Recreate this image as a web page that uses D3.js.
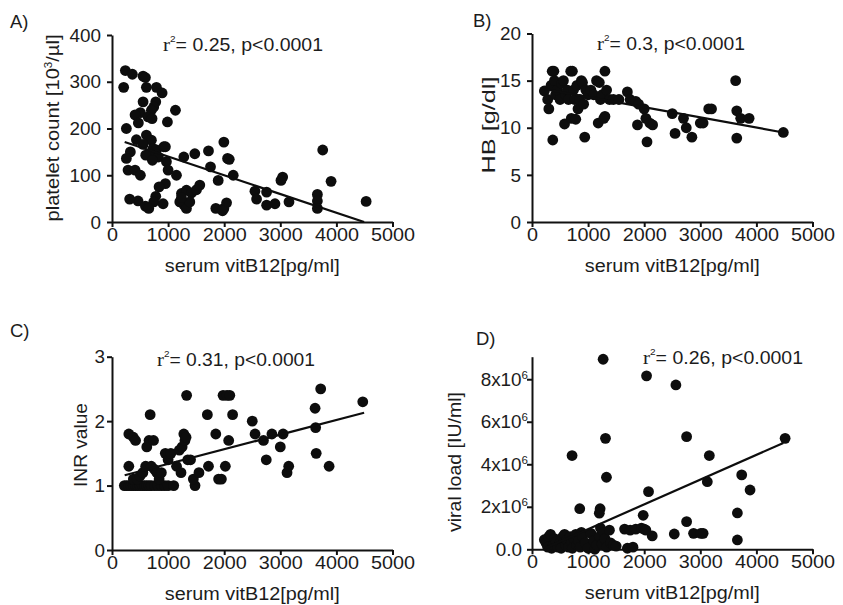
<!DOCTYPE html>
<html><head><meta charset="utf-8">
<script src="https://cdn.jsdelivr.net/npm/d3@7/dist/d3.min.js"></script>
<style>
body{margin:0;background:#fff}
svg{display:block}
text{font-family:"Liberation Sans",Arial,Helvetica,sans-serif;fill:#1c1c1c}
</style>
</head><body>
<svg id="chart" width="843" height="605"></svg>
<script>
// ---------- data ----------
const xTicks = [0, 1000, 2000, 3000, 4000, 5000];
const xTitle = "serum vitB12[pg/ml]";

// A) platelet count vs serum vitB12  [vitB12, platelets]
const plateletPts = [
  [238,324],[363,316],[554,312],[595,309],[208,288],[613,288],[792,288],[893,276],
  [554,257],[780,257],[744,246],[702,239],[506,234],[411,229],[643,225],[714,221],[470,212],
  [1131,239],[988,214],[256,200],[613,186],[435,176],[702,175],[554,166],[732,157],
  [792,154],[923,161],[327,150],[673,146],[601,143],[827,139],[720,132],[256,136],
  [286,111],[411,111],[506,100],[952,161],[970,129],[1000,111],[952,82],[839,75],
  [780,55],[744,43],[911,39],[1149,100],[1280,139],[1476,146],[1238,61],[1327,68],
  [1417,62],[1565,79],[1506,69],[1208,43],[1286,36],[1327,29],[1387,43],[1238,52],
  [464,45],[595,34],[655,29],[315,49],[1720,152],[1756,118],[1893,89],[1851,29],
  [1994,171],[2060,136],[2090,134],[1994,29],[2042,41],[1970,24],[2161,100],[2548,66],
  [2577,49],[2756,64],[2756,36],[2905,39],[3042,96],[3012,89],[3155,43],[3661,59],
  [3661,45],[3661,29],[3756,154],[3905,87],[4530,44]
];
const plateletFit = [[226,171],[4494,0]];
const plateletTicks = [0, 100, 200, 300, 400];

// B) HB vs serum vitB12  [vitB12, HB]
const hbPts = [
  [220,13.9],[280,13],[300,12],[340,14.5],[360,16],[390,16],[370,8.7],[400,15],[420,13.5],
  [450,14],[500,13],[530,14.7],[560,15],[580,10.4],[600,13.5],[630,14],[650,13],[690,16],
  [700,11],[720,16],[740,14],[760,13],[780,10.9],[800,14.5],[820,12],[850,13],[880,15],
  [900,14.8],[920,12.5],[940,9],[960,14],[1000,13.5],[1050,14],[1100,13.5],[1150,15],
  [1180,10.5],[1200,14.8],[1220,13],[1250,13.5],[1280,11],[1300,16],[1300,11.2],[1330,14],
  [1380,13],[1450,13],[1550,13],[1700,13.8],[1750,13],[1850,12.8],[1880,10.3],[1900,12.5],
  [2000,12],[2030,11],[2050,8.5],[2100,10.5],[2150,10.3],[2500,11.5],[2550,9.4],[2700,11],
  [2750,10],[2850,9],[3000,10.5],[3050,10.5],[3150,12],[3200,12],[3630,15],[3650,11.8],
  [3650,8.9],[3720,11],[3870,11],[4480,9.5]
];
const hbFit = [[220,14.1],[4480,9.5]];
const hbTicks = [0, 5, 10, 15, 20];

// C) INR vs serum vitB12  [vitB12, INR]
const inrPts = [
  [220,1],[260,1],[300,1],[340,1],[380,1],[420,1],[460,1],[500,1],[540,1],[580,1],[620,1],
  [660,1],[700,1],[760,1],[820,1],[880,1],[940,1],[1000,1],[1100,1],[1480,1],
  [300,1.3],[300,1.8],[380,1.75],[420,1.7],[380,1.1],[450,1.1],[500,1.15],[550,1.2],
  [600,1.3],[620,1.6],[660,1.7],[680,2.1],[700,1.3],[740,1.7],[760,1.25],[800,1.2],
  [840,1.1],[880,1.2],[950,1.5],[1000,1.4],[1050,1.5],[1150,1.3],[1200,1.55],[1230,1.2],
  [1250,1.6],[1280,1.8],[1300,1.7],[1320,1.75],[1330,2.4],[1350,1.4],[1400,1.4],[1450,1.1],
  [1550,1.2],[1700,2.1],[1720,1.3],[1850,1.8],[1900,1.1],[1950,1.1],[1980,2.4],[2020,1.3],
  [2050,2.4],[2080,1.7],[2100,2.4],[2150,2.1],[2500,2.0],[2550,1.8],[2700,1.7],[2750,1.4],
  [2850,1.8],[3000,1.6],[3050,1.8],[3120,1.2],[3150,1.3],[3620,2.2],[3630,1.9],[3640,1.5],
  [3720,2.5],[3870,1.3],[4470,2.3]
];
const inrFit = [[226,1.16],[4494,2.13]];
const inrTicks = [0, 1, 2, 3];

// D) viral load vs serum vitB12  [vitB12, viral load (x10^6 IU/ml)]
const viralPts = [
  [1268,8.94],[2042,8.16],[2565,7.73],[1310,5.22],[2756,5.3],[4512,5.22],[714,4.41],
  [3161,4.41],[1327,3.39],[3125,3.18],[3738,3.5],[3887,2.79],[2077,2.71],[851,1.91],
  [1214,1.91],[1200,1.7],[1982,1.6],[2756,1.3],[3661,1.71],[3661,0.44],[2536,0.72],
  [2880,0.75],[3050,0.75],[3010,0.75],[2143,0.63],
  [220,0.45],[250,0.3],[280,0.1],[300,0.6],[330,0.7],[350,0.05],[380,0.2],[400,0.5],
  [430,0.35],[460,0.1],[500,0.3],[520,0.05],[550,0.6],[580,0.7],[600,0.2],[620,0.45],
  [650,0.1],[680,0.6],[700,0.3],[720,0.05],[750,0.5],[780,0.7],[800,0.2],[830,0.4],
  [860,0.1],[880,0.8],[900,0.6],[950,0.3],[1000,0.05],[1050,0.75],[1100,0.4],[1120,0.0],
  [1150,0.2],[1200,0.6],[1220,1.0],[1250,0.25],[1280,0.8],[1300,0.5],[1330,0.1],
  [1380,0.9],[1400,0.3],[1450,0.2],[1500,0.15],[1650,0.95],[1700,0.05],[1750,0.9],
  [1800,0.1],[1850,0.95],[1950,1.0],[2000,0.95],[2030,0.9]
];
const viralFit = [[220,0.04],[4480,5.0]];
const viralTicks = [0, 2, 4, 6, 8];

// ---------- layout ----------
const panels = [
  {lab:"A)", labX:10, labY:28, pts:plateletPts, fit:plateletFit, ticks:plateletTicks,
   xr:[112,392.5], yr:[222,35], yd:[0,400], yLabX:-11,
   yTitle:["platelet count [10","3","/µl]"], yTitleX:59, yTitleY:128, yTitleLen:187,
   r2:"0.25", r2X:163, r2Y:51, r2Len:160},
  {lab:"B)", labX:473, labY:27, pts:hbPts, fit:hbFit, ticks:hbTicks,
   xr:[532,812.5], yr:[222,33.5], yd:[0,20], yLabX:-11,
   yTitle:["HB [g/dl]"], yTitleX:495, yTitleY:125, yTitleLen:97,
   r2:"0.3", r2X:597, r2Y:50, r2Len:148},
  {lab:"C)", labX:10, labY:337, pts:inrPts, fit:inrFit, ticks:inrTicks,
   xr:[112,392.5], yr:[550,356.7], yd:[0,3], yLabX:-7,
   yTitle:["INR value"], yTitleX:87, yTitleY:445, yTitleLen:84,
   r2:"0.31", r2X:157, r2Y:366, r2Len:158},
  {lab:"D)", labX:476, labY:345, pts:viralPts, fit:viralFit, ticks:viralTicks, sci:true,
   xr:[532,812.5], yr:[549.3,356.7], yd:[0,9.06], yLabX:-4,
   yTitle:["viral load [IU/ml]"], yTitleX:461, yTitleY:462, yTitleLen:140,
   r2:"0.26", r2X:643, r2Y:364, r2Len:160}
];

const svg = d3.select("#chart");
svg.append("rect").attr("width",843).attr("height",605).attr("fill","#fff");

const TICK_FS = 18;

panels.forEach(p => {
  const x = d3.scaleLinear().domain([0,5000]).range(p.xr);
  const y = d3.scaleLinear().domain(p.yd).range(p.yr);
  const g = svg.append("g");

  // panel letter
  g.append("text").attr("x",p.labX).attr("y",p.labY)
    .attr("font-size",18.5).text(p.lab);

  // x axis
  const xa = g.append("g").attr("transform",`translate(0,${p.yr[0]})`)
    .call(d3.axisBottom(x).tickValues(xTicks).tickFormat(d3.format("d")).tickSize(5).tickSizeOuter(0));
  // y axis
  const ya = g.append("g").attr("transform",`translate(${p.xr[0]},0)`)
    .call(d3.axisLeft(y).tickValues(p.ticks).tickFormat(d3.format("d")).tickSize(5).tickSizeOuter(0));

  [xa, ya].forEach(a => {
    a.attr("font-size",TICK_FS).attr("font-family",null);
    a.select(".domain").attr("stroke","#111").attr("stroke-width",2);
    a.selectAll(".tick line").attr("stroke","#111").attr("stroke-width",2);
    a.selectAll("text").attr("font-size",TICK_FS).attr("fill","#1c1c1c");
  });
  xa.selectAll(".tick text").attr("y",null).attr("dy",null)
    .attr("transform","translate(0,18.5) scale(1.1,1)");
  ya.selectAll(".tick text").attr("x",null).attr("dy","0.34em")
    .attr("transform",d => `translate(${p.sci && d===0 ? -10 : p.yLabX},0) scale(1.05,1)`);

  if (p.sci){
    ya.selectAll(".tick text").each(function(d){
      const t = d3.select(this);
      t.text(null);
      if (d === 0){ t.text("0.0"); }
      else {
        t.append("tspan").text(d + "x10");
        t.append("tspan").attr("font-size",11).attr("dy",-7).text("6");
      }
    });
  }

  // x title
  g.append("text").attr("x",(p.xr[0]+p.xr[1])/2).attr("y",p.yr[0]+50)
    .attr("text-anchor","middle").attr("font-size",17.5)
    .attr("textLength",175).attr("lengthAdjust","spacingAndGlyphs")
    .text(xTitle);

  // y title
  const yt = g.append("text")
    .attr("transform",`translate(${p.yTitleX},${p.yTitleY}) rotate(-90)`)
    .attr("text-anchor","middle").attr("font-size",17.5)
    .attr("textLength",p.yTitleLen).attr("lengthAdjust","spacingAndGlyphs");
  yt.append("tspan").text(p.yTitle[0]);
  if (p.yTitle.length > 1){
    yt.append("tspan").attr("font-size",10).attr("dy",-7).text(p.yTitle[1]);
    yt.append("tspan").attr("dy",7).text(p.yTitle[2]);
  }

  // r^2 label
  const rt = g.append("text").attr("x",p.r2X).attr("y",p.r2Y).attr("font-size",17.5)
    .attr("textLength",p.r2Len).attr("lengthAdjust","spacingAndGlyphs");
  rt.append("tspan").attr("font-family",'"Liberation Serif","Times New Roman",serif').attr("font-size",19).text("r");
  rt.append("tspan").attr("font-size",9).attr("dy",-9).text("2");
  rt.append("tspan").attr("dy",9).text("= " + p.r2 + ", p<0.0001");

  // points
  g.append("g").selectAll("circle").data(p.pts).join("circle")
    .attr("cx",d=>x(d[0])).attr("cy",d=>y(d[1])).attr("r",5.4).attr("fill","#0d0d0d");

  // regression line
  g.append("path").datum(p.fit)
    .attr("d", d3.line().x(d=>x(d[0])).y(d=>y(d[1])))
    .attr("stroke","#0d0d0d").attr("stroke-width",2.2).attr("fill","none");
});
</script>
</body></html>
